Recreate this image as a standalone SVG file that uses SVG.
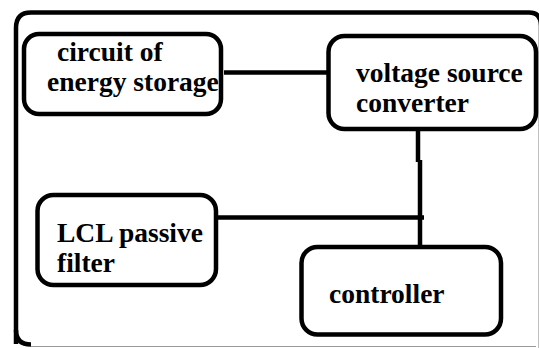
<svg xmlns="http://www.w3.org/2000/svg" width="539" height="348" viewBox="0 0 539 348">
<style>
.box{fill:#fff;stroke:#000;stroke-width:4.5}
.frame{fill:none;stroke:#000;stroke-width:4.5}
.ln{stroke:#000;stroke-width:4.5;fill:none}
text{font-family:"Liberation Serif","Times New Roman",serif;font-weight:bold;font-size:27.5px;fill:#000}
</style>
<rect width="539" height="348" fill="#fff"/>
<path class="frame" d="M16,344 V28 Q16,12.5 31,12.5 H529 Q541,12.5 541,26 V348"/>
<path d="M16,330 Q16,344.5 31,344.5" class="frame"/>
<line x1="31" y1="346.5" x2="536" y2="346.5" stroke="#999" stroke-width="1"/>
<g id="connectors">
<line class="ln" x1="224" y1="72.5" x2="327" y2="72.5"/>
<line class="ln" x1="418" y1="129" x2="418" y2="162"/>
<line class="ln" x1="420" y1="160" x2="420" y2="247"/>
<line class="ln" x1="216" y1="217.5" x2="424" y2="217.5"/>
</g>
<g id="energy-storage">
<rect class="box" x="24" y="34" width="197" height="80" rx="15"/>
<text x="57" y="61">circuit of</text>
<text x="47" y="91">energy storage</text>
</g>
<g id="vsc">
<rect class="box" x="328.5" y="36" width="207.5" height="93" rx="16"/>
<text x="356" y="82">voltage source</text>
<text x="356" y="112">converter</text>
</g>
<g id="lcl-filter">
<rect class="box" x="37.5" y="195" width="178.5" height="90" rx="16"/>
<text x="57" y="242">LCL passive</text>
<text x="57" y="272">filter</text>
</g>
<g id="controller">
<rect class="box" x="301.5" y="247" width="199.5" height="87.5" rx="16"/>
<text x="329" y="303">controller</text>
</g>
</svg>
